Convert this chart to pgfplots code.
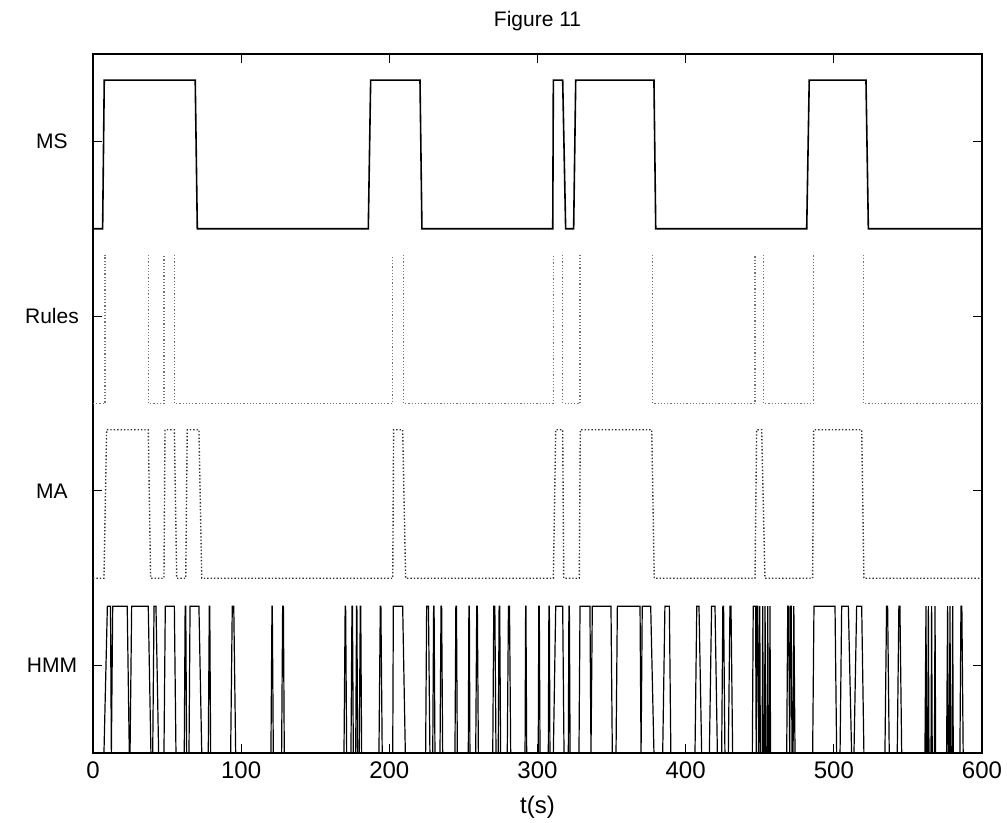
\documentclass[border=0pt]{standalone}
\usepackage{fontspec}
\setmainfont{Liberation Sans}
\usepackage{pgfplots}
\pgfplotsset{compat=1.18}
\begin{document}
\begin{tikzpicture}
\path[use as bounding box] (-46.5pt,-35pt) rectangle (457pt,376.5pt);
\begin{axis}[
    scale only axis,
    width=444.5pt, height=349.5pt,
    xmin=0, xmax=600, ymin=0, ymax=4,
    xtick={0,100,...,600},
    ytick={0.5,1.5,2.5,3.5},
    yticklabels={HMM,MA,Rules,MS},
    tick pos=both,
    tick align=inside,
    major tick length=4.5pt,
    axis line style={line width=0.6pt},
    tick style={black, line width=0.6pt},
    title={Figure 11},
    title style={font=\fontsize{10.5}{12}\selectfont, yshift=2pt},
    xlabel={t(s)},
    xlabel style={font=\fontsize{12}{14}\selectfont, yshift=-1.5pt},
    xticklabel style={font=\fontsize{12}{14}\selectfont, yshift=-1pt},
    yticklabel style={font=\fontsize{10.5}{12}\selectfont, anchor=center, xshift=-20.5pt},
    /pgf/number format/assume math mode=true,
    unbounded coords=jump,
]

% MS
\addplot[black, line width=0.8pt] coordinates {
(0,3)(6.5,3)(7.6,3.85)(69.0,3.85)(70.4,3)(185.8,3)(187.4,3.85)(220.7,3.85)(222,3)
(310.3,3)(310.7,3.85)(317.0,3.85)(319.0,3)(324.4,3)(325.8,3.85)(378.6,3.85)(379.8,3)
(481.7,3)(483.4,3.85)(521.7,3.85)(523.3,3)(600,3)
};

% Rules (top segments not visible in the print)
\addplot[black!55, densely dotted, line width=0.6pt] coordinates {
(0,2)(8.1,2)(8.1,2.85)(nan,nan)
(37.3,2.85)(37.3,2)(47.9,2)(47.9,2.85)(nan,nan)
(54.9,2.85)(54.9,2)(202.0,2)(202.0,2.85)(nan,nan)
(209.5,2.85)(209.5,2)(310.7,2)(310.7,2.85)(nan,nan)
(317.0,2.85)(317.0,2)(328.7,2)(328.7,2.85)(nan,nan)
(377.7,2.85)(377.7,2)(446.8,2)(446.8,2.85)(nan,nan)
(452.4,2.85)(452.4,2)(486.2,2)(486.2,2.85)(nan,nan)
(519.9,2.85)(519.9,2)(600,2)
};

% MA
\addplot[black!80, densely dotted, line width=0.7pt] coordinates {
(0,1)(7.4,1)(9.2,1.85)(37.3,1.85)(38.9,1)(47.9,1)(48.6,1.85)(54.9,1.85)(56.5,1)
(62.6,1)(63.6,1.85)(71.5,1.85)(73.4,1)(202.3,1)(202.9,1.85)(209.0,1.85)(211.0,1)
(310.7,1)(312.3,1.85)(317.0,1.85)(317.7,1)(328.2,1)(328.9,1.85)(377.1,1.85)(378.8,1)
(446.8,1)(447.9,1.85)(451.3,1.85)(453.5,1)(485.7,1)(486.4,1.85)(518.8,1.85)(520.3,1)
(600,1)
};

% HMM
\addplot[black, line width=0.6pt] coordinates {
(0,0)(7.4,0)(9.7,0.84)(11.8,0.84)(12.4,0)(13.3,0.84)(23.1,0.84)(24.5,0)(25.0,0)(26.1,0.84)
(37.3,0.84)(39.1,0)(40.3,0)(41.2,0.84)(42.5,0.84)(44.3,0)(47.9,0)(48.8,0.84)(54.9,0.84)(56.0,0)
(61.6,0)(62.2,0.84)(62.6,0.84)(63.2,0)(64.8,0)(65.5,0.84)(71.5,0.84)(73.4,0)
(77.8,0)(78.5,0.84)(78.8,0.84)(79.4,0)(92.9,0)(94.0,0.84)(95.0,0.84)(96.3,0)
(120.1,0)(120.8,0.84)(121.0,0.84)(121.7,0)(127.3,0)(128.0,0.84)(128.5,0.84)(129.1,0)
(169.4,0)(170.2,0.84)(170.5,0.84)(171.2,0)(174.1,0)(174.8,0.84)(175.1,0.84)(175.7,0)
(177.3,0)(177.9,0.84)(178.1,0.84)(178.6,0)(179.7,0)(180.4,0.84)(180.7,0.84)(181.3,0)
(193.0,0)(193.9,0.84)(194.3,0.84)(195.2,0)(202.3,0)(202.7,0.84)(209.0,0.84)(210.8,0)
(224.5,0)(225.2,0.84)(226.4,0.84)(227.4,0)(229.3,0)(229.9,0.84)(230.2,0.84)(230.8,0)
(234.2,0)(234.9,0.84)(235.3,0.84)(236.0,0)(244.3,0)(244.9,0.84)(245.3,0.84)(245.9,0)
(253.3,0)(253.7,0.84)(254.0,0.84)(254.4,0)(258.3,0)(259.0,0.84)(259.4,0.84)(260.1,0)
(269.8,0)(270.5,0.84)(271.2,0.84)(272.0,0)(273.5,0)(274.1,0.84)(274.5,0.84)(275.1,0)
(279.6,0)(280.4,0.84)(281.1,0.84)(281.9,0)(291.6,0)(292.0,0.84)(292.2,0.84)(292.7,0)
(300.5,0)(300.9,0.84)(301.2,0.84)(301.7,0)(307.3,0)(307.7,0.84)(308.0,0.84)(308.4,0)
(310.7,0)(312.3,0.84)(317.0,0.84)(317.9,0)(320.8,0)(321.2,0.84)(321.5,0.84)(322.0,0)
(328.0,0)(328.7,0.84)(335.4,0.84)(336.1,0)(337.0,0.84)(349.6,0.84)(350.5,0)
(353.0,0)(353.9,0.84)(369.2,0.84)(369.9,0)(370.7,0.84)(376.4,0.84)(378.6,0)
(384.5,0)(386.0,0.84)(389.0,0.84)(390.0,0)(406.3,0)(407.5,0.84)(409.0,0.84)(410.8,0)
(416.0,0)(417.5,0.84)(419.8,0.84)(421.4,0)(424.3,0)(425.1,0.84)(425.6,0.84)(426.5,0)
(428.8,0)(429.9,0.84)(430.6,0.84)(431.7,0)
(445.0,0)(445.6,0.84)(447.2,0.84)(447.6,0)(448.0,0.84)(448.6,0.84)(449.2,0)(450.0,0.84)(450.4,0)
(451.6,0)(452.0,0.84)(452.4,0)(453.2,0)(453.6,0.84)(454.0,0)(455.0,0)(455.4,0.84)(455.8,0)
(456.6,0)(456.9,0.84)(457.3,0)
(468.2,0)(468.9,0.84)(469.5,0.84)(470.2,0)(470.8,0.84)(471.2,0.84)(471.8,0)(472.5,0)(473.0,0.84)(473.8,0)
(485.7,0)(486.6,0.84)(500.8,0.84)(501.9,0)(504.2,0)(505.3,0.84)(509.8,0.84)(512.0,0)
(513.6,0)(515.4,0.84)(518.8,0.84)(520.3,0)(534.5,0)(535.6,0.84)(536.3,0.84)(537.4,0)
(542.8,0)(543.9,0.84)(544.6,0.84)(545.8,0)
(561.5,0)(562.2,0.84)(562.6,0)(563.4,0)(563.8,0.84)(564.2,0)(565.6,0)(566.0,0.84)(566.4,0)
(567.9,0)(568.3,0.84)(568.7,0)(576.1,0)(576.8,0.84)(577.2,0)(578.0,0)(578.4,0.84)(578.8,0)
(579.8,0)(580.2,0.84)(580.6,0)(585.1,0)(585.8,0.84)(586.4,0.84)(587.3,0)(600,0)
};
\end{axis}
\end{tikzpicture}
\end{document}
